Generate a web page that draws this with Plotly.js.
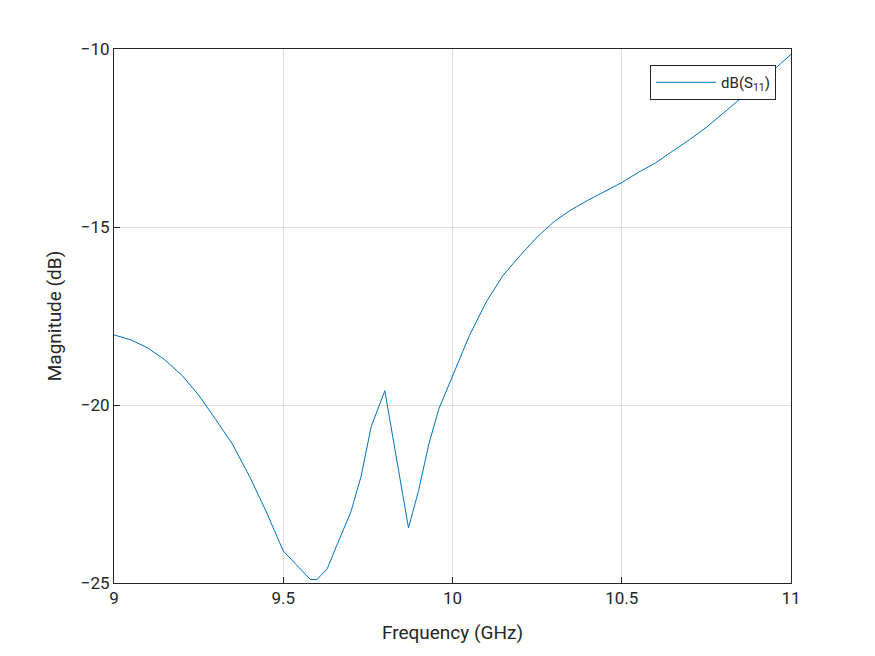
<!DOCTYPE html>
<html>
<head>
<script src="https://cdn.plot.ly/plotly-3.0.1.min.js"></script>
<style>body{margin:0;background:#fff}</style>
</head>
<body>
<div id="plot" style="width:875px;height:656px"></div>
<script>
// Frequency (GHz) and |S11| (dB)
const freq = [9.0, 9.05, 9.1, 9.15, 9.2, 9.25, 9.3, 9.35, 9.4, 9.45, 9.5, 9.55, 9.58, 9.6, 9.63, 9.66, 9.7, 9.73, 9.76, 9.8,
  9.83, 9.87, 9.9, 9.93, 9.96, 10.0, 10.05, 10.1, 10.15, 10.2, 10.25, 10.3, 10.35, 10.4, 10.45, 10.5,
  10.55, 10.6, 10.65, 10.7, 10.75, 10.8, 10.85, 10.9, 11.0];
const s11 = [-18.03, -18.17, -18.4, -18.73, -19.16, -19.72, -20.4, -21.1, -22.0, -23.0, -24.1, -24.6, -24.9, -24.9, -24.6, -23.9, -23.0, -22.0, -20.6, -19.6,
  -21.3, -23.45, -22.4, -21.1, -20.1, -19.2, -18.05, -17.1, -16.35, -15.8, -15.28, -14.85, -14.52, -14.25, -13.99, -13.75,
  -13.46, -13.2, -12.87, -12.55, -12.2, -11.8, -11.38, -11.0, -10.15];

const axisStyle = {
    showgrid: true, gridcolor: '#dfdfdf', zeroline: false,
    showline: true, linecolor: '#262626', mirror: true,
    ticks: 'inside', ticklen: 6, tickcolor: '#262626',
    tickfont: { size: 17, color: '#262626' }
};

Plotly.newPlot('plot', [{
    x: freq, y: s11, type: 'scatter', mode: 'lines',
    line: { color: '#0072bd', width: 1 },
    name: 'dB(S<sub>11</sub>)'
}], {
    paper_bgcolor: '#fff', plot_bgcolor: '#fff',
    font: { family: 'Roboto, Arial, sans-serif', color: '#262626' },
    margin: { l: 114, r: 84, t: 49, b: 73 },
    showlegend: true,
    legend: {
        x: 0.978, y: 0.97, xanchor: 'right', yanchor: 'top',
        bordercolor: '#262626', borderwidth: 1, bgcolor: '#fff',
        font: { size: 15 }, itemwidth: 60
    },
    xaxis: Object.assign({}, axisStyle, {
        range: [9, 11], tickvals: [9, 9.5, 10, 10.5, 11],
        title: { text: 'Frequency (GHz)', font: { size: 19 }, standoff: 18 }
    }),
    yaxis: Object.assign({}, axisStyle, {
        range: [-25, -10], tickvals: [-25, -20, -15, -10],
        title: { text: 'Magnitude (dB)', font: { size: 19 }, standoff: 14 }
    })
}, { displayModeBar: false });
</script>
</body>
</html>
